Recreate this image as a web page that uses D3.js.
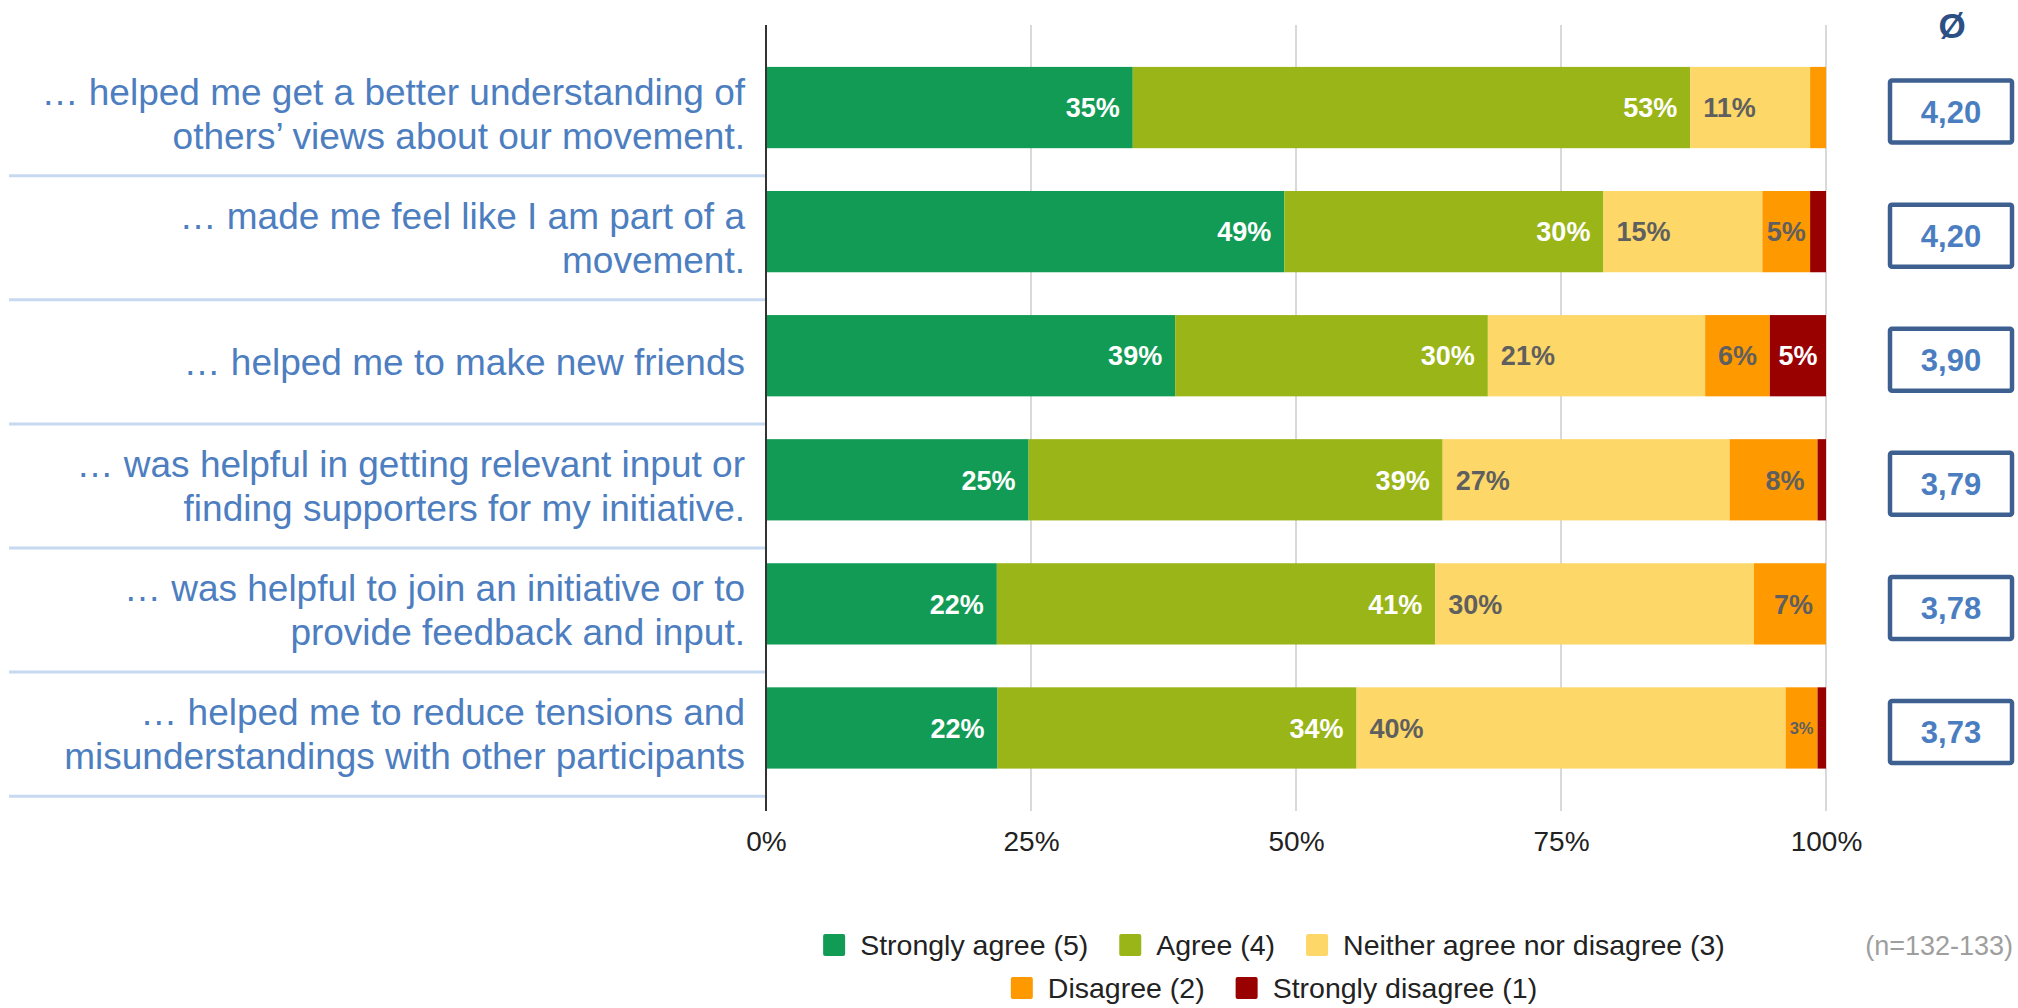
<!DOCTYPE html>
<html>
<head>
<meta charset="utf-8">
<script src="https://cdn.jsdelivr.net/npm/d3@7"></script>
<style>
  body { margin: 0; background: #fff; }
  text { font-family: "Liberation Sans", Arial, sans-serif; }
</style>
</head>
<body>
<svg id="chart" width="2018" height="1008"></svg>
<script>
// survey statements (line breaks as in the original)
var questions = [
  "… helped me get a better understanding of\nothers’ views about our movement.",
  "… made me feel like I am part of a\nmovement.",
  "… helped me to make new friends",
  "… was helpful in getting relevant input or\nfinding supporters for my initiative.",
  "… was helpful to join an initiative or to\nprovide feedback and input.",
  "… helped me to reduce tensions and\nmisunderstandings with other participants"
];

var seriesKeys = ["sa", "a", "n", "d", "sd"];
var seriesNames = ["Strongly agree (5)", "Agree (4)", "Neither agree nor disagree (3)", "Disagree (2)", "Strongly disagree (1)"];

// shares in percent
var strongAgree    = [34.6, 48.9, 38.6, 24.8, 21.8, 21.8];
var agree          = [52.6, 30.1, 29.5, 39.1, 41.4, 33.8];
var neither        = [11.3, 15.0, 20.5, 27.1, 30.1, 40.4];
var disagree       = [1.5, 4.5, 6.1, 8.3, 6.8, 3.0];
var strongDisagree = [0, 1.5, 5.3, 0.8, 0, 0.8];

var averages = ["4,20", "4,20", "3,90", "3,79", "3,78", "3,73"];
var xTicks = [0, 0.25, 0.5, 0.75, 1];
var sampleNote = "(n=132-133)";

var colors = ["#129b55", "#9ab517", "#fdd768", "#ff9900", "#990000"];
var labelColors = ["#fff", "#fff", "#5f5f5f", "#5f5f5f", "#fff"];
var labelAlign = ["end", "end", "start", "end", "end"];

var svg = d3.select("#chart");

var rows = questions.map(function(q, i) {
  return {q: q, sa: strongAgree[i], a: agree[i], n: neither[i], d: disagree[i], sd: strongDisagree[i]};
});

var stack = d3.stack().keys(seriesKeys).offset(d3.stackOffsetExpand);
var layers = stack(rows);

var x = d3.scaleLinear().domain([0, 1]).range([766, 1826]);
var y = d3.scaleBand().domain(questions).range([45.5, 790]).paddingInner(0.345).paddingOuter(0.1725);

var gridTop = 25, gridBottom = 811;

// gridlines
svg.append("g").selectAll("line")
  .data(xTicks.slice(1))
  .enter().append("line")
  .attr("x1", function(d) { return x(d); })
  .attr("x2", function(d) { return x(d); })
  .attr("y1", gridTop).attr("y2", gridBottom)
  .attr("stroke", "#cccccc").attr("stroke-width", 1.5);

// separators between statements
svg.append("g").selectAll("line")
  .data(questions)
  .enter().append("line")
  .attr("x1", 9).attr("x2", 766)
  .attr("y1", function(d) { return y(d) + y.bandwidth() / 2 + y.step() * 0.55; })
  .attr("y2", function(d) { return y(d) + y.bandwidth() / 2 + y.step() * 0.55; })
  .attr("stroke", "#c6d9f1").attr("stroke-width", 3);

// bars
var layerG = svg.append("g").selectAll("g")
  .data(layers)
  .enter().append("g")
  .attr("fill", function(d, i) { return colors[i]; });

layerG.selectAll("rect")
  .data(function(d) { return d; })
  .enter().append("rect")
  .attr("x", function(d) { return x(d[0]); })
  .attr("width", function(d) { return Math.max(0, x(d[1]) - x(d[0])); })
  .attr("y", function(d) { return y(d.data.q); })
  .attr("height", y.bandwidth());

// value labels inside the bars
var labelG = svg.append("g");
layers.forEach(function(layer, li) {
  layer.forEach(function(d) {
    var v = d.data[layer.key];
    if (v < 2.5) return;
    var x0 = x(d[0]), x1 = x(d[1]), w = x1 - x0;
    var fs = 27;
    var t = labelG.append("text")
      .text(Math.round(v) + "%")
      .attr("y", y(d.data.q) + y.bandwidth() / 2)
      .attr("dy", "0.36em")
      .attr("fill", labelColors[li])
      .attr("font-weight", "bold")
      .attr("font-size", fs);
    var tw = t.node().getComputedTextLength();
    if (tw + 6 > w) {
      fs = fs * (w - 8) / tw;
      t.attr("font-size", fs).attr("x", (x0 + x1) / 2).attr("text-anchor", "middle");
    } else {
      var pad = Math.min(13, (w - tw) / 2);
      if (labelAlign[li] == "start") t.attr("x", x0 + pad).attr("text-anchor", "start");
      else t.attr("x", x1 - pad).attr("text-anchor", "end");
    }
  });
});

// left axis line
svg.append("line")
  .attr("x1", 766).attr("x2", 766)
  .attr("y1", gridTop).attr("y2", gridBottom)
  .attr("stroke", "#333").attr("stroke-width", 2);

// x axis labels
var xAxis = d3.axisBottom(x).tickValues(xTicks).tickFormat(d3.format(".0%")).tickSize(0).tickPadding(0);
var axisG = svg.append("g").attr("transform", "translate(0," + 831 + ")").call(xAxis);
axisG.select(".domain").remove();
axisG.selectAll("text")
  .attr("font-size", 28)
  .attr("fill", "#222")
  .attr("font-family", "\"Liberation Sans\", Arial, sans-serif");

// statement labels
var lineH = 44;
var qG = svg.append("g");
questions.forEach(function(q) {
  var lines = q.split("\n");
  var c = y(q) + y.bandwidth() / 2 + 9.5;
  var t = qG.append("text")
    .attr("text-anchor", "end")
    .attr("font-size", 37)
    .attr("fill", "#4d7ebf");
  lines.forEach(function(l, k) {
    t.append("tspan")
      .attr("x", 745)
      .attr("y", c + (k - (lines.length - 1) / 2) * lineH + 10)
      .text(l);
  });
});

// average column
svg.append("text")
  .attr("x", 1952).attr("y", 38)
  .attr("text-anchor", "middle")
  .attr("font-size", 35).attr("font-weight", "bold")
  .attr("fill", "#2c4f86")
  .text("Ø");

var avgG = svg.append("g").selectAll("g")
  .data(questions)
  .enter().append("g")
  .attr("transform", function(d) { return "translate(1951," + (y(d) + y.bandwidth() / 2 + 4) + ")"; });

avgG.append("rect")
  .attr("x", -61).attr("y", -31)
  .attr("width", 122).attr("height", 62)
  .attr("rx", 2)
  .attr("fill", "#fff")
  .attr("stroke", "#3e6091").attr("stroke-width", 4.5);

avgG.append("text")
  .attr("text-anchor", "middle")
  .attr("dy", "0.36em")
  .attr("font-size", 31).attr("font-weight", "bold")
  .attr("fill", "#4a7ec1")
  .text(function(d, i) { return averages[i]; });

// legend, two centered rows
var legendRows = [[0, 1, 2], [3, 4]];
var legendY = [945, 988];
var legendCx = 1274;
legendRows.forEach(function(r, ri) {
  var g = svg.append("g");
  var cursor = 0;
  r.forEach(function(si, k) {
    if (k > 0) cursor += 31;
    g.append("rect")
      .attr("x", cursor).attr("y", legendY[ri] - 11)
      .attr("width", 22).attr("height", 22).attr("rx", 2)
      .attr("fill", colors[si]);
    var t = g.append("text")
      .attr("x", cursor + 37).attr("y", legendY[ri])
      .attr("dy", "0.36em")
      .attr("font-size", 28.5).attr("fill", "#222")
      .text(seriesNames[si]);
    cursor += 37 + t.node().getComputedTextLength();
  });
  g.attr("transform", "translate(" + (legendCx - cursor / 2) + ",0)");
});

svg.append("text")
  .attr("x", 2013).attr("y", 945)
  .attr("dy", "0.36em")
  .attr("text-anchor", "end")
  .attr("font-size", 27).attr("fill", "#9e9e9e")
  .text(sampleNote);
</script>
</body>
</html>
